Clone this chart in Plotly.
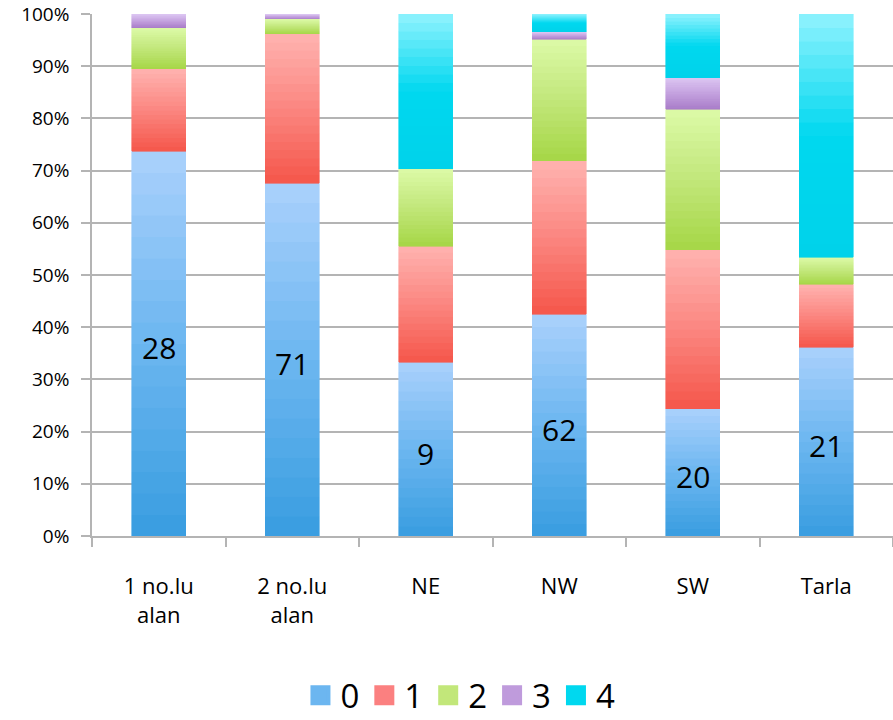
import plotly.graph_objects as go

# Sites and count per class (0-4) at each site
sites = ["1 no.lu<br>alan", "2 no.lu<br>alan", "NE", "NW", "SW", "Tarla"]
class_names = ["0", "1", "2", "3", "4"]
class0 = [28, 71, 9, 62, 20, 21]
class1 = [6, 30, 6, 43, 25, 7]
class2 = [3, 3, 4, 34, 22, 3]
class3 = [1, 1, 0, 2, 5, 0]
class4 = [0, 0, 8, 5, 10, 27]
series = [class0, class1, class2, class3, class4]

# Gradient stops per class, bottom -> top of each segment
gradients = [
    ["#389de0", "#6cb6f0", "#aad1fc"],
    ["#f5564a", "#fb8680", "#ffb3b0"],
    ["#a5d646", "#c2e77a", "#dcfaa8"],
    ["#a87cc8", "#c3a0de", "#dcc6f2"],
    ["#00d2ea", "#00d8ef", "#90f2fe"],
]
legend_colors = ["#6cb6f0", "#fb8080", "#c2e77a", "#bf9bdc", "#00d8ef"]

FONT = "Open Sans, Lato, sans-serif"


def hex_to_rgb(h):
    h = h.lstrip("#")
    return [int(h[i:i + 2], 16) for i in (0, 2, 4)]


def mix(stops, t):
    # piecewise-linear blend across the stop list, t in [0, 1]
    n = len(stops) - 1
    k = min(int(t * n), n - 1)
    local = t * n - k
    a, b = hex_to_rgb(stops[k]), hex_to_rgb(stops[k + 1])
    c = [round(a[i] + (b[i] - a[i]) * local) for i in range(3)]
    return "rgb({},{},{})".format(*c)


SLICES = 18
fig = go.Figure()

for s, (name, values) in enumerate(zip(class_names, series)):
    # no seam-covering outline on empty segments
    widths = [0.6 if v > 0 else 0 for v in values]
    for k in range(SLICES):
        col = mix(gradients[s], (k + 0.5) / SLICES)
        fig.add_trace(go.Bar(
            x=sites,
            y=[v / SLICES for v in values],
            name=name,
            legendgroup=name,
            showlegend=False,
            marker=dict(color=col, line=dict(color=col, width=widths)),
            hoverinfo="skip",
        ))

# Legend keys drawn as square markers
for s, name in enumerate(class_names):
    fig.add_trace(go.Scatter(
        x=[None], y=[None], mode="markers", name=name, legendgroup=name,
        marker=dict(symbol="square", size=16, color=legend_colors[s],
                    line=dict(color=legend_colors[s], width=4)),
        showlegend=True, hoverinfo="skip",
    ))

# Class-0 counts written in the middle of the class-0 segment
totals = [sum(col) for col in zip(*series)]
for site, c0, t in zip(sites, class0, totals):
    fig.add_annotation(
        x=site, y=100 * c0 / t / 2, text=str(c0), showarrow=False,
        yshift=-4, font=dict(size=30, color="black", family=FONT),
    )

fig.update_layout(
    width=893, height=720,
    barmode="stack", barnorm="percent", bargap=0.595,
    plot_bgcolor="white", paper_bgcolor="white",
    margin=dict(l=92, r=0, t=14, b=184, autoexpand=False),
    font=dict(family=FONT, color="black"),
    legend=dict(
        orientation="h", x=0.46, xanchor="center", y=-0.305, yanchor="middle",
        font=dict(size=33), traceorder="normal", itemsizing="trace",
        itemwidth=30,
    ),
)
fig.update_yaxes(
    range=[0, 100], dtick=10, ticksuffix="%",
    showgrid=True, gridcolor="#b4b4b4", gridwidth=1.5,
    showline=True, linecolor="#b4b4b4", linewidth=1.5,
    ticks="outside", ticklen=9, tickcolor="#b4b4b4", tickwidth=1.5,
    tickfont=dict(size=19), zeroline=False, ticklabelstandoff=8,
    automargin=False,
)
fig.update_xaxes(
    showline=True, linecolor="#b4b4b4", linewidth=1.5,
    ticks="outside", tickson="boundaries", ticklen=9,
    tickcolor="#b4b4b4", tickwidth=1.5,
    tickfont=dict(size=22), ticklabelstandoff=30, automargin=False,
)

fig.write_html("out.html")
